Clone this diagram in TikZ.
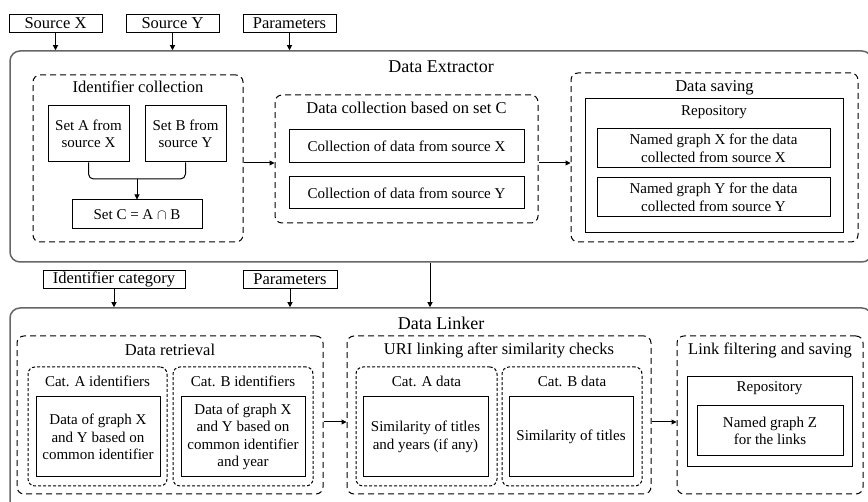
\documentclass[tikz,border=0pt]{standalone}
\usepackage{fontspec}
\setmainfont{Liberation Serif}
\usetikzlibrary{arrows.meta}

\begin{document}
\begin{tikzpicture}[x=1pt,y=-1pt,line width=0.9pt,
    every node/.style={font=\rmfamily},
    inbox/.style={draw,line width=0.9pt,inner sep=0pt,minimum height=18pt,font=\rmfamily\fontsize{16.5}{18}\selectfont},
    stage/.style={draw=black!60,line width=1.5pt,rounded corners=10pt},
    group/.style={draw,line width=1pt,dash pattern=on 6pt off 4pt,rounded corners=7pt},
    subgroup/.style={draw,line width=1pt,dash pattern=on 3pt off 2pt,rounded corners=7pt},
    item/.style={draw,line width=1pt,inner sep=0pt,align=center,font=\rmfamily\fontsize{15}{17.5}\selectfont},
    label/.style={font=\rmfamily\fontsize{15}{17.5}\selectfont},
    title/.style={font=\rmfamily\fontsize{16.5}{19}\selectfont},
    flow/.style={line width=1pt,-{Triangle[length=5pt,width=5pt]}}]
  \useasboundingbox (0,0) rectangle (868,502);

  % inputs of the extractor
  \node[inbox,minimum width=93pt] (srcX) at (55.5,23) {Source X};
  \node[inbox,minimum width=93pt] (srcY) at (172.5,23) {Source Y};
  \node[inbox,minimum width=93pt] (parA) at (289.5,23) {Parameters};

  % data extractor
  \node[stage,minimum width=862pt,minimum height=211pt] (extractor) at (441,156.5) {};
  \node[font=\rmfamily\fontsize{18}{20}\selectfont] (extractorT) at (441,67) {Data Extractor};
  \draw[flow] (srcX) -- (srcX |- extractor.north);
  \draw[flow] (srcY) -- (srcY |- extractor.north);
  \draw[flow] (parA) -- (parA |- extractor.north);

  \node[group,minimum width=210pt,minimum height=167pt] (idcoll) at (138,158.5) {};
  \node[title] (idcollT) at (138,87) {Identifier collection};
  \node[item,minimum width=81pt,minimum height=56pt] (setA) at (88.5,134) {Set A from\\source X};
  \node[item,minimum width=81pt,minimum height=56pt] (setB) at (185.5,134) {Set B from\\source Y};
  \node[item,minimum width=130pt,minimum height=29pt] (setC) at (137,214.5) {Set C = A $\cap$ B};
  \coordinate (merge) at (137,179);
  \draw[line width=1pt,rounded corners=5pt] (setA.south) |- (merge) -| (setB.south);
  \draw[flow] (merge) -- (setC.north);

  \node[group,minimum width=263pt,minimum height=128pt] (collect) at (406.5,159) {};
  \node[title] (collectT) at (406.5,108) {Data collection based on set C};
  \node[item,minimum width=235pt,minimum height=33pt] (colX) at (406.5,146.5) {Collection of data from source X};
  \node[item,minimum width=235pt,minimum height=32pt] (colY) at (406.5,193) {Collection of data from source Y};

  \node[group,minimum width=287pt,minimum height=169pt] (saving) at (714.5,157.5) {};
  \node[title] (savingT) at (714.5,88) {Data saving};
  \node[draw,line width=1pt,minimum width=258pt,minimum height=134pt] (repoA) at (714,166) {};
  \node[label] (repoAT) at (714,112) {Repository};
  \node[item,minimum width=233pt,minimum height=39pt] (ngX) at (713.5,148.5) {Named graph X for the data\\collected from source X};
  \node[item,minimum width=233pt,minimum height=39pt] (ngY) at (713.5,197.5) {Named graph Y for the data\\collected from source Y};

  \draw[flow] ([yshift=-4.5pt]idcoll.east) -- ([yshift=-4.5pt]idcoll.east -| collect.west);
  \draw[flow] ([yshift=-4pt]collect.east) -- ([yshift=-4pt]collect.east -| saving.west);

  % inputs of the linker
  \node[inbox,minimum width=142pt] (idcat) at (114,279.5) {Identifier category};
  \node[inbox,minimum width=94pt] (parB) at (290,279.5) {Parameters};

  % data linker
  \node[stage,minimum width=862pt,minimum height=204pt] (linker) at (441,410) {};
  \node[font=\rmfamily\fontsize{18}{20}\selectfont] (linkerT) at (441,323) {Data Linker};
  \draw[flow] (idcat) -- (idcat |- linker.north);
  \draw[flow] (parB) -- (parB |- linker.north);
  \draw[flow] ([xshift=-11pt]extractor.south) -- ([xshift=-11pt]extractor.south |- linker.north);

  \node[group,minimum width=306pt,minimum height=158pt] (retrieval) at (170,415) {};
  \node[title] (retrievalT) at (170,350) {Data retrieval};
  \node[subgroup,minimum width=139pt,minimum height=119pt] (catAid) at (97.5,426.5) {};
  \node[label] (catAidT) at (97.5,381) {Cat. A identifiers};
  \node[item,minimum width=124pt,minimum height=80pt] (dataA) at (98,437) {Data of graph X\\and Y based on\\common identifier};
  \node[subgroup,minimum width=140pt,minimum height=119pt] (catBid) at (243,426.5) {};
  \node[label] (catBidT) at (243,381) {Cat. B identifiers};
  \node[item,minimum width=124pt,minimum height=80pt] (dataB) at (243,437) {Data of graph X\\and Y based on\\common identifier\\and year};

  \node[group,minimum width=304pt,minimum height=158pt] (uri) at (499,415) {};
  \node[title] (uriT) at (499,350) {URI linking after similarity checks};
  \node[subgroup,minimum width=141pt,minimum height=119pt] (catAd) at (426.5,426.5) {};
  \node[label] (catAdT) at (426.5,381) {Cat. A data};
  \node[item,minimum width=125pt,minimum height=80pt] (simA) at (425.5,437) {Similarity of titles\\and years (if any)};
  \node[subgroup,minimum width=140pt,minimum height=119pt] (catBd) at (572,426.5) {};
  \node[label] (catBdT) at (572,381) {Cat. B data};
  \node[item,minimum width=124pt,minimum height=80pt] (simB) at (571,437) {Similarity of titles};

  \node[group,minimum width=186pt,minimum height=158pt] (filt) at (770,415) {};
  \node[title] (filtT) at (770,350) {Link filtering and saving};
  \node[draw,line width=1pt,minimum width=165pt,minimum height=90pt] (repoB) at (769.5,422) {};
  \node[label] (repoBT) at (769.5,388) {Repository};
  \node[item,minimum width=146pt,minimum height=50pt] (ngZ) at (770,431) {Named graph Z\\for the links};

  \draw[flow] ([yshift=-7pt]retrieval.east) -- ([yshift=-7pt]retrieval.east -| uri.west);
  \draw[flow] ([yshift=-7pt]uri.east) -- ([yshift=-7pt]uri.east -| filt.west);
\end{tikzpicture}
\end{document}
